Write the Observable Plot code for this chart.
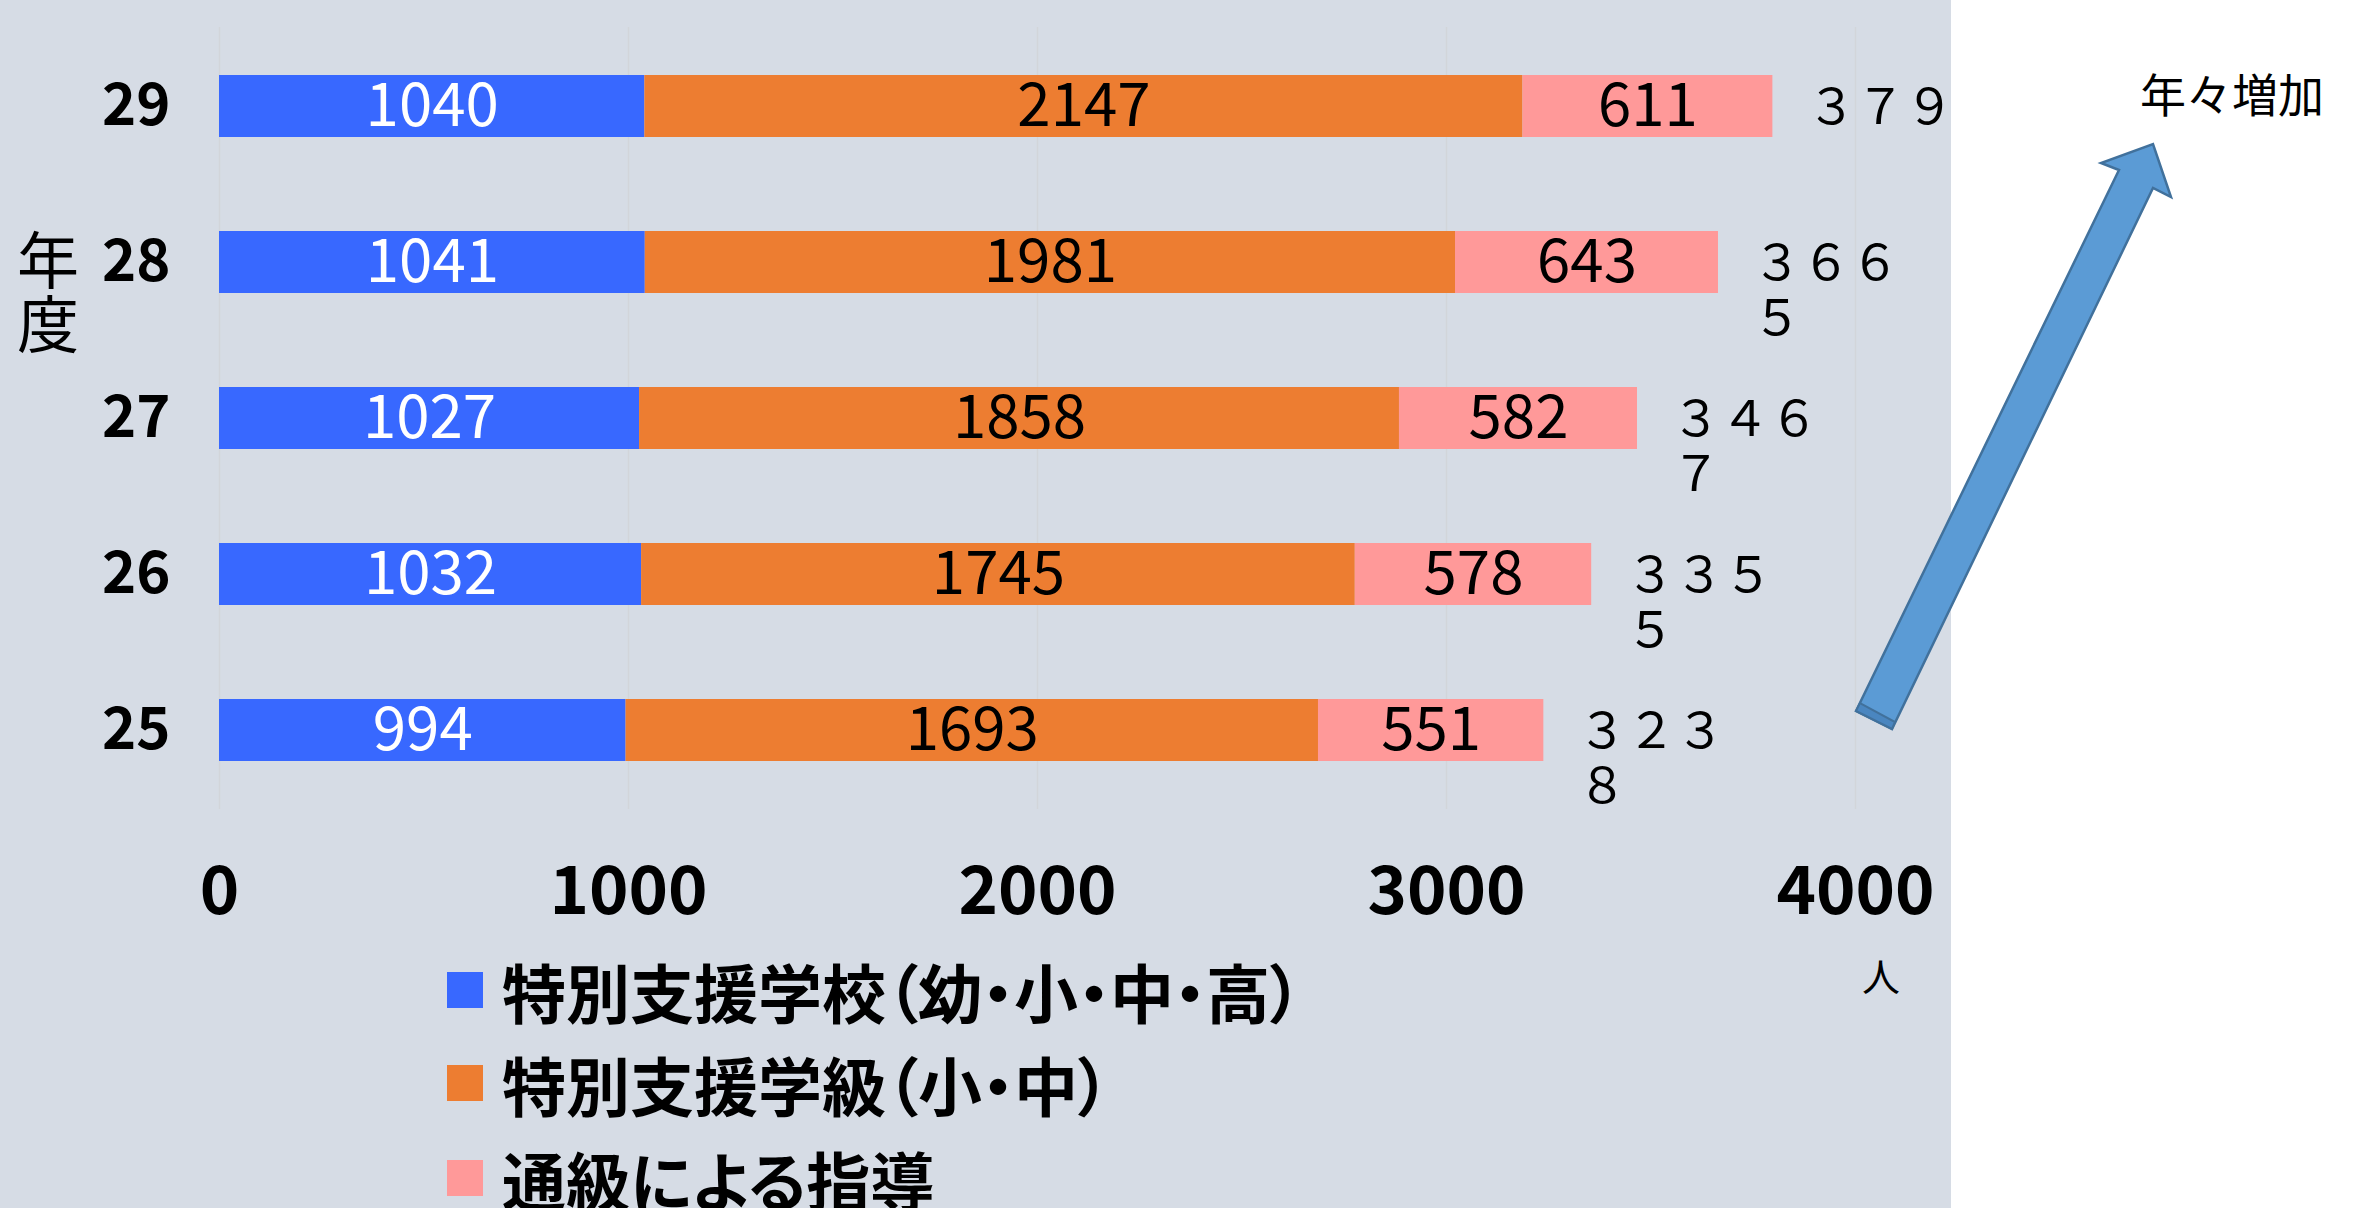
<!DOCTYPE html>
<html>
<head>
<meta charset="utf-8">
<script src="https://cdn.jsdelivr.net/npm/d3@7"></script>
<script src="https://cdn.jsdelivr.net/npm/@observablehq/plot@0.6"></script>
<style>
  html, body { margin: 0; padding: 0; background: #ffffff; }
  #page { position: relative; width: 2353px; height: 1208px; overflow: hidden; background: #ffffff; font-family: "Noto Sans CJK JP", sans-serif; }
  #panel { position: absolute; left: 0; top: 0; width: 1951px; height: 1208px; background: #d6dce5; }
  #chart { position: absolute; left: 0; top: 0; }
  #chart svg { overflow: visible; }
  .abs { position: absolute; white-space: nowrap; color: #000; }
  .legend-row { position: absolute; left: 447px; height: 66px; display: flex; align-items: center; }
  .legend-row .sw { width: 36px; height: 36px; flex: none; }
  .legend-row .lb { margin-left: 19px; font-size: 64px; font-weight: bold; font-feature-settings: "palt"; line-height: 66px; }
  #overlay { position: absolute; left: 0; top: 0; }
</style>
</head>
<body>
<div id="page">
  <div id="panel"></div>
  <div id="chart"></div>
  <div id="legend"></div>
  <div class="abs" id="ylab" style="left:17px; top:225px; font-size:62px; line-height:64px;">年<br>度</div>
  <div class="abs" style="left:1862px; top:953px; font-size:38px; line-height:44px;">人</div>
  <div class="abs" style="left:2140px; top:65px; font-size:46px; line-height:54px;">年々増加</div>
  <svg id="overlay" width="2353" height="1208"></svg>
</div>
<script>
// ---- data ----
const years = ["29", "28", "27", "26", "25"];
const seriesNames = ["特別支援学校（幼・小・中・高）", "特別支援学級（小・中）", "通級による指導"];
const seriesColors = ["#3868ff", "#ed7d31", "#ff9999"];
const schoolValues = [1040, 1041, 1027, 1032, 994];
const classValues = [2147, 1981, 1858, 1745, 1693];
const tsukyuValues = [611, 643, 582, 578, 551];
const totalLabels = ["３７９", "３６６\n５", "３４６\n７", "３３５\n５", "３２３\n８"];
const xTicks = [0, 1000, 2000, 3000, 4000];

const seriesValues = [schoolValues, classValues, tsukyuValues];
const data = [];
years.forEach((y, i) => {
  seriesNames.forEach((s, j) => data.push({year: y, series: s, value: seriesValues[j][i]}));
});
const totals = years.map((y, i) => ({
  year: y,
  total: schoolValues[i] + classValues[i] + tsukyuValues[i],
  label: totalLabels[i]
}));

const font = "Noto Sans CJK JP";

const chart = Plot.plot({
  width: 1951,
  height: 940,
  marginTop: 27,
  marginBottom: 131,
  marginLeft: 219,
  marginRight: 96,
  style: {background: "transparent", fontFamily: font, color: "#000", overflow: "visible"},
  x: {domain: [0, 4000], axis: null},
  y: {domain: years, paddingInner: 0.6, paddingOuter: 0.3, axis: null},
  color: {domain: seriesNames, range: seriesColors},
  marks: [
    Plot.gridX(xTicks, {stroke: "#d2d5da", strokeOpacity: 1, strokeWidth: 1.5}),
    Plot.barX(data, {x: "value", y: "year", fill: "series", order: seriesNames}),
    Plot.text(data, Plot.stackX({
      x: "value", y: "year", z: "series", order: seriesNames,
      text: d => d.series === seriesNames[0] ? String(d.value) : "",
      fill: "white", fontSize: 60, fontFamily: font
    })),
    Plot.text(data, Plot.stackX({
      x: "value", y: "year", z: "series", order: seriesNames,
      text: d => d.series === seriesNames[0] ? "" : String(d.value),
      fill: "black", fontSize: 60, fontFamily: font
    })),
    Plot.text(totals, {
      x: "total", y: "year", text: "label",
      textAnchor: "start", lineAnchor: "top", dx: 34, dy: -21,
      lineHeight: 1.12, fontSize: 49, fill: "black", fontFamily: font
    }),
    Plot.axisX(xTicks, {
      tickSize: 0, tickPadding: 57, fontSize: 67, fontWeight: "bold",
      fill: "black", label: null, tickFormat: d => String(d), fontFamily: font
    }),
    Plot.axisY({
      tickSize: 0, tickPadding: 49, fontSize: 58, fontWeight: "bold",
      fill: "black", label: null, fontFamily: font
    })
  ]
});
document.getElementById("chart").appendChild(chart);

// ---- legend ----
const legendY = [990, 1083, 1178];
const legend = document.getElementById("legend");
seriesNames.forEach((s, i) => {
  const row = document.createElement("div");
  row.className = "legend-row";
  row.style.top = (legendY[i] - 33) + "px";
  const sw = document.createElement("div");
  sw.className = "sw";
  sw.style.background = seriesColors[i];
  const lb = document.createElement("div");
  lb.className = "lb";
  lb.textContent = s;
  row.appendChild(sw);
  row.appendChild(lb);
  legend.appendChild(row);
});

// ---- decorative block arrow (年々増加) ----
const ns = "http://www.w3.org/2000/svg";
const overlay = document.getElementById("overlay");
const arrow = document.createElementNS(ns, "polygon");
arrow.setAttribute("points", "1856,711 2119,170 2101,163 2153,144 2171,197 2153,188 1892,729");
arrow.setAttribute("fill", "#5b9bd5");
arrow.setAttribute("stroke", "#41719c");
arrow.setAttribute("stroke-width", "2.5");
arrow.setAttribute("stroke-linejoin", "miter");
overlay.appendChild(arrow);
const cap = document.createElementNS(ns, "polygon");
cap.setAttribute("points", "1856,711 1892,729 1895,722 1860,703");
cap.setAttribute("fill", "#4a86c0");
cap.setAttribute("stroke", "#41719c");
cap.setAttribute("stroke-width", "2");
overlay.appendChild(cap);
</script>
</body>
</html>
